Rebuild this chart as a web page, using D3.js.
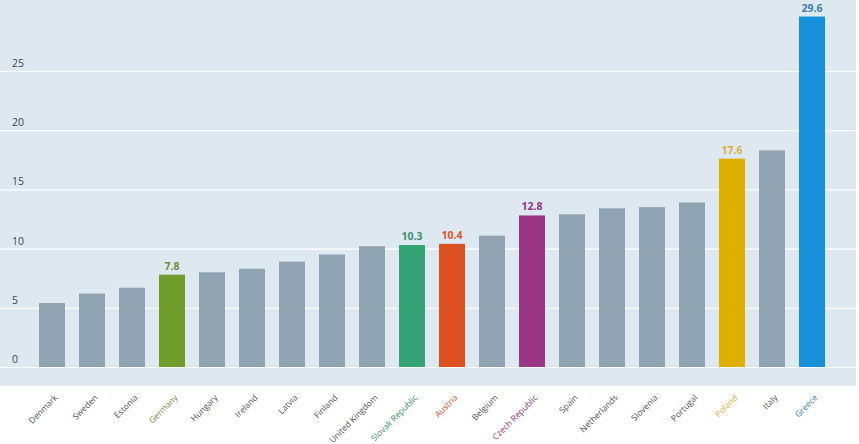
<!DOCTYPE html>
<html lang="en">
<head>
<meta charset="UTF-8"/>
<title>bars</title>
<script src="https://d3js.org/d3.v7.min.js"></script>
<style>
  body { margin: 0; background: #fff; }
  text { font-family: "Open Sans", Arial, sans-serif; }
</style>
</head>
<body>
<div id="chart"></div>
<script>
// data
var countries = ["Denmark", "Sweden", "Estonia", "Germany", "Hungary", "Ireland", "Latvia",
  "Finland", "United Kingdom", "Slovak Republic", "Austria", "Belgium", "Czech Republic",
  "Spain", "Netherlands", "Slovenia", "Portugal", "Poland", "Italy", "Greece"];
var values = [5.4, 6.2, 6.7, 7.8, 8.0, 8.3, 8.9, 9.5, 10.2, 10.3, 10.4, 11.1, 12.8,
  12.9, 13.4, 13.5, 13.9, 17.6, 18.3, 29.6];
var yTicks = [0, 5, 10, 15, 20, 25];

// highlighted countries: bar colour, label colour
var highlight = {
  "Germany":         { bar: "#6f9c2a", text: "#6e8f3a" },
  "Slovak Republic": { bar: "#33a474", text: "#3f8f6a" },
  "Austria":         { bar: "#dd5121", text: "#d9542a" },
  "Czech Republic":  { bar: "#993685", text: "#8e3a7e" },
  "Poland":          { bar: "#e0b000", text: "#d9b040" },
  "Greece":          { bar: "#1690d8", text: "#3f7fae" }
};
var greyBar = "#8fa3b1";

var W = 859, H = 444;
var svg = d3.select("#chart").append("svg")
  .attr("width", W).attr("height", H);

// panel background
svg.append("rect")
  .attr("x", 0).attr("y", 0)
  .attr("width", 856).attr("height", 386)
  .attr("fill", "#dde8f1");

var x = d3.scaleBand()
  .domain(countries)
  .range([32, 832])
  .paddingInner(0.35)
  .paddingOuter(0.175);

var y = d3.scaleLinear()
  .domain([0, 25])
  .range([367, 71]);

// gridlines
var grid = svg.append("g")
  .call(d3.axisLeft(y).tickValues(yTicks).tickSize(-856).tickFormat(""));
grid.select(".domain").remove();
grid.selectAll("line").attr("x1", 0).attr("x2", 856)
  .attr("stroke", "#ffffff").attr("stroke-width", 1.2);

// y tick labels sit above the lines
svg.selectAll(".ylab")
  .data(yTicks)
  .enter().append("text")
    .attr("class", "ylab")
    .attr("x", 12)
    .attr("y", function(d) { return y(d) - 4; })
    .attr("font-size", "10.5px")
    .attr("fill", "#444")
    .text(function(d) { return d; });

// bars
svg.selectAll(".bar")
  .data(countries)
  .enter().append("rect")
    .attr("class", "bar")
    .attr("x", function(d) { return x(d); })
    .attr("width", x.bandwidth())
    .attr("y", function(d, i) { return y(values[i]); })
    .attr("height", function(d, i) { return y(0) - y(values[i]); })
    .attr("fill", function(d) { return highlight[d] ? highlight[d].bar : greyBar; });

// value labels on highlighted bars
svg.selectAll(".val")
  .data(countries.filter(function(d) { return highlight[d]; }))
  .enter().append("text")
    .attr("class", "val")
    .attr("x", function(d) { return x(d) + x.bandwidth() / 2; })
    .attr("y", function(d) { return y(values[countries.indexOf(d)]) - 5; })
    .attr("text-anchor", "middle")
    .attr("font-size", "10.5px")
    .attr("font-weight", "bold")
    .attr("fill", function(d) { return highlight[d].text; })
    .text(function(d) { return values[countries.indexOf(d)].toFixed(1); });

// x axis labels, rotated
var xAxis = svg.append("g")
  .attr("transform", "translate(0,391)")
  .call(d3.axisBottom(x).tickSize(0));
xAxis.select(".domain").remove();
xAxis.selectAll("text")
  .attr("font-family", "'Open Sans', Arial, sans-serif")
  .attr("font-size", "8.5px")
  .attr("fill", function(d) { return highlight[d] ? highlight[d].text : "#555"; })
  .attr("dy", "0.35em")
  .attr("transform", "translate(2,3) rotate(-45)")
  .style("text-anchor", "end");
</script>
</body>
</html>
